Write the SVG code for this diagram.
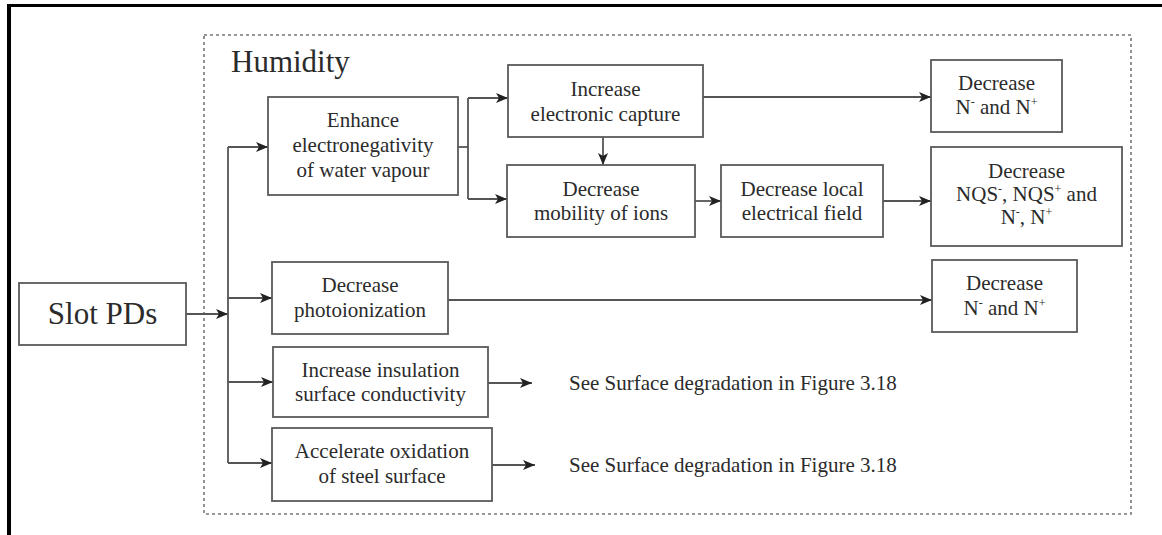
<svg xmlns="http://www.w3.org/2000/svg" width="1162" height="535" viewBox="0 0 1162 535" font-family="Liberation Serif, DejaVu Serif, serif">
<style>
.box{fill:#fff;stroke:#5a5a5a;stroke-width:1.8}
.t{font-size:21px;fill:#2b2b2b;text-anchor:middle}
.ts{font-size:21px;fill:#2b2b2b;text-anchor:start}
.big{font-size:31px;fill:#2b2b2b}
.c{fill:none;stroke:#555;stroke-width:1.8}
.sup{font-size:12px}
</style>
<defs>
<marker id="ah" markerUnits="userSpaceOnUse" markerWidth="12" markerHeight="10" refX="12" refY="5" orient="auto">
<path d="M0,0 L12,5 L0,10 L3,5 z" fill="#222"/>
</marker>
</defs>
<rect x="0" y="0" width="1162" height="535" fill="#fff"/>
<rect x="7" y="4" width="1155" height="3" fill="#000"/>
<rect x="7" y="4" width="4" height="531" fill="#000"/>
<g id="humidity">
<rect x="204" y="35" width="927" height="479" fill="none" stroke="#777" stroke-width="1.6" stroke-dasharray="3 3"/>
<text class="big" x="231" y="72">Humidity</text>
</g>
<g id="connectors">
<path class="c" d="M186,314 H228" marker-end="url(#ah)"/>
<path class="c" d="M228,147 V463"/>
<path class="c" d="M228,147 H268" marker-end="url(#ah)"/>
<path class="c" d="M228,298 H272" marker-end="url(#ah)"/>
<path class="c" d="M228,382 H273" marker-end="url(#ah)"/>
<path class="c" d="M228,463 H272" marker-end="url(#ah)"/>
<path class="c" d="M458,147 H468"/>
<path class="c" d="M468,98 V199"/>
<path class="c" d="M468,98 H508" marker-end="url(#ah)"/>
<path class="c" d="M468,199 H507" marker-end="url(#ah)"/>
<path class="c" d="M603,137 V165" marker-end="url(#ah)"/>
<path class="c" d="M703,97 H931" marker-end="url(#ah)"/>
<path class="c" d="M695,201 H721" marker-end="url(#ah)"/>
<path class="c" d="M883,201 H931" marker-end="url(#ah)"/>
<path class="c" d="M448,300 H932" marker-end="url(#ah)"/>
<path class="c" d="M488,383 H532" marker-end="url(#ah)"/>
<path class="c" d="M492,465 H535" marker-end="url(#ah)"/>
</g>
<g id="slot">
<rect class="box" x="19" y="283" width="167" height="62"/>
<text class="big" x="102.5" y="324" text-anchor="middle">Slot PDs</text>
</g>
<g id="enhance">
<rect class="box" x="268" y="97" width="190" height="98"/>
<text class="t" x="363" y="127">Enhance</text>
<text class="t" x="363" y="152">electronegativity</text>
<text class="t" x="363" y="177">of water vapour</text>
</g>
<g id="capture">
<rect class="box" x="508" y="65" width="195" height="72"/>
<text class="t" x="605.5" y="96">Increase</text>
<text class="t" x="605.5" y="121">electronic capture</text>
</g>
<g id="mobility">
<rect class="box" x="507" y="165" width="188" height="72"/>
<text class="t" x="601" y="196">Decrease</text>
<text class="t" x="601" y="220">mobility of ions</text>
</g>
<g id="localfield">
<rect class="box" x="721" y="165" width="162" height="72"/>
<text class="t" x="802" y="196">Decrease local</text>
<text class="t" x="802" y="220">electrical field</text>
</g>
<g id="dec1">
<rect class="box" x="931" y="60" width="131" height="72"/>
<text class="t" x="996.5" y="90">Decrease</text>
<text class="t" x="996.5" y="114">N<tspan class="sup" dy="-8">-</tspan><tspan dy="8"> and N</tspan><tspan class="sup" dy="-8">+</tspan></text>
</g>
<g id="dec2">
<rect class="box" x="931" y="147" width="191" height="99"/>
<text class="t" x="1026.5" y="178">Decrease</text>
<text class="t" x="1026.5" y="201">NQS<tspan class="sup" dy="-8">-</tspan><tspan dy="8">, NQS</tspan><tspan class="sup" dy="-8">+</tspan><tspan dy="8"> and</tspan></text>
<text class="t" x="1026.5" y="224">N<tspan class="sup" dy="-8">-</tspan><tspan dy="8">, N</tspan><tspan class="sup" dy="-8">+</tspan></text>
</g>
<g id="photo">
<rect class="box" x="272" y="262" width="176" height="72"/>
<text class="t" x="360" y="292">Decrease</text>
<text class="t" x="360" y="317">photoionization</text>
</g>
<g id="dec3">
<rect class="box" x="932" y="260" width="145" height="72"/>
<text class="t" x="1004.5" y="290">Decrease</text>
<text class="t" x="1004.5" y="315">N<tspan class="sup" dy="-8">-</tspan><tspan dy="8"> and N</tspan><tspan class="sup" dy="-8">+</tspan></text>
</g>
<g id="insulation">
<rect class="box" x="273" y="347" width="215" height="70"/>
<text class="t" x="380.5" y="377">Increase insulation</text>
<text class="t" x="380.5" y="401">surface conductivity</text>
</g>
<g id="oxidation">
<rect class="box" x="272" y="428" width="220" height="73"/>
<text class="t" x="382" y="458">Accelerate oxidation</text>
<text class="t" x="382" y="483">of steel surface</text>
</g>
<g id="see1">
<text class="ts" x="569" y="390">See Surface degradation in Figure 3.18</text>
</g>
<g id="see2">
<text class="ts" x="569" y="472">See Surface degradation in Figure 3.18</text>
</g>
</svg>
